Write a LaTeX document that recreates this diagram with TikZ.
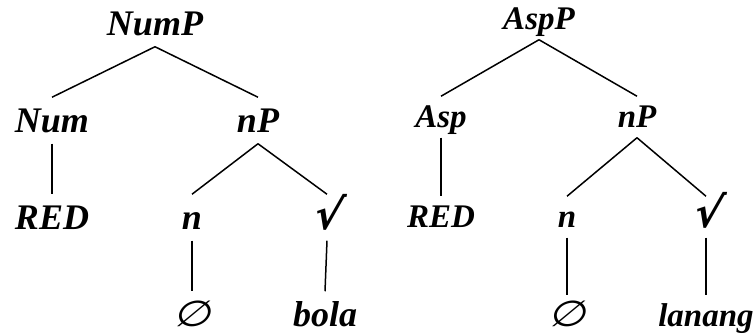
\documentclass[tikz,border=0pt]{standalone}
\usepackage{fontspec}
\usepackage{graphicx}
\setmainfont{Liberation Serif}
\newfontfamily\symfont[FakeSlant=0.2]{DejaVu Sans}
\newcommand{\nullsym}{{\symfont\mdseries\upshape\fontsize{18}{20}\selectfont\scalebox{1.2}[1]{∅}}}
\newcommand{\rootsym}{{\symfont\bfseries\upshape\fontsize{21}{24}\selectfont √}}
\usepackage{tikz}

\begin{document}
\begin{tikzpicture}[x=0.5pt, y=-0.5pt, line width=0.75pt,
    lab/.style={anchor=base, inner xsep=0pt, inner ysep=1pt, text height=16.5pt, text depth=4pt,
        font=\fontsize{18}{20}\selectfont\bfseries\itshape},
    labr/.style={anchor=base, inner xsep=0pt, inner ysep=1pt, text height=14.5pt, text depth=3.5pt,
        font=\fontsize{16.5}{19}\selectfont\bfseries\itshape}]
    \useasboundingbox (0,0) rectangle (755,335);
    \node[lab] (numP) at (155,36) {NumP};
    \node[lab] (num) at (52,133) {Num};
    \node[lab] (nPa) at (258,133) {nP};
    \node[lab] (redA) at (52,230) {RED};
    \node[lab] (nA) at (192,230) {n};
    \node[lab] (rootA) at (327,230) {\rootsym};
    \node[lab] (nullA) at (192,327) {\nullsym};
    \node[lab] (bola) at (325,327) {bola};
    \draw (numP.south) -- (num.north);
    \draw (numP.south) -- (nPa.north);
    \draw (num.south) -- (redA.north);
    \draw (nPa.south) -- (nA.north);
    \draw (nPa.south) -- (rootA.north);
    \draw (nA.south) -- (nullA.north);
    \draw (rootA.south) -- (bola.north);
    \node[labr] (aspP) at (539,30) {AspP};
    \node[labr] (asp) at (441,128) {Asp};
    \node[labr] (nPb) at (637,128) {nP};
    \node[labr] (redB) at (441,228) {RED};
    \node[labr] (nB) at (567,228) {n};
    \node[labr] (rootB) at (706,228) {\rootsym};
    \node[labr] (nullB) at (567,327) {\nullsym};
    \node[labr] (lanang) at (706,327) {lanang};
    \draw (aspP.south) -- (asp.north);
    \draw (aspP.south) -- (nPb.north);
    \draw (asp.south) -- (redB.north);
    \draw (nPb.south) -- (nB.north);
    \draw (nPb.south) -- (rootB.north);
    \draw (nB.south) -- (nullB.north);
    \draw (rootB.south) -- (lanang.north);
\end{tikzpicture}
\end{document}
